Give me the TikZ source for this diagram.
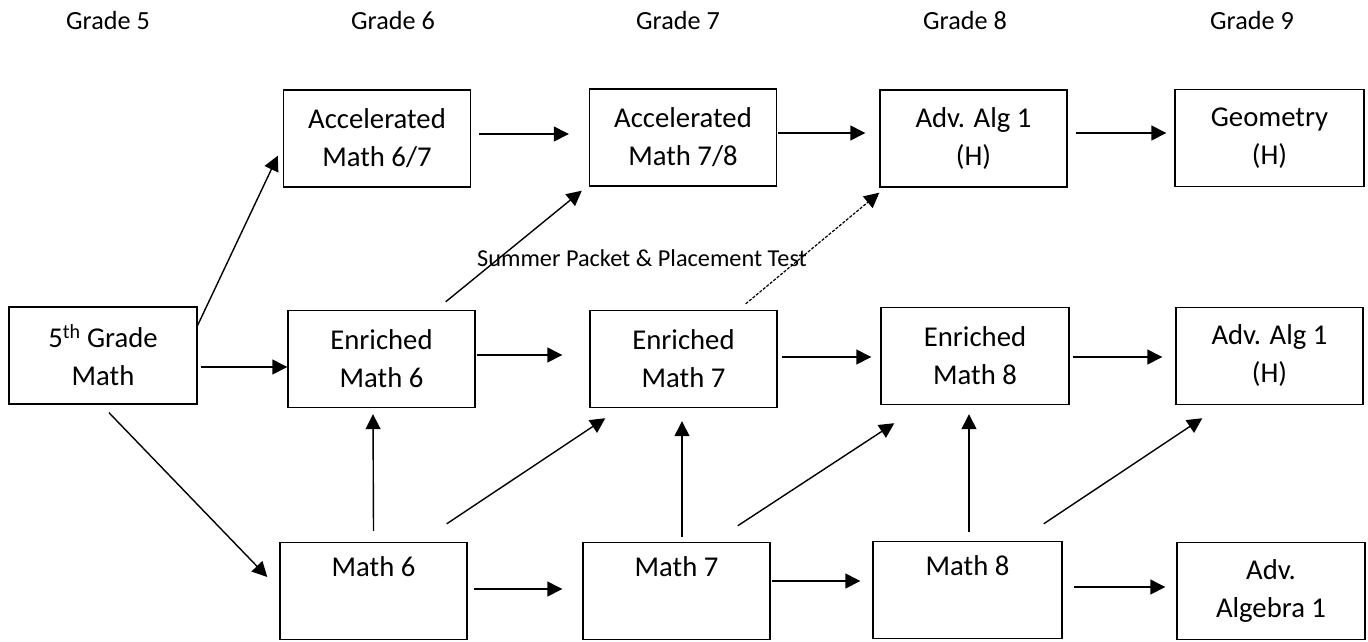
\documentclass[tikz,border=0pt]{standalone}
\usepackage{fontspec}
\setmainfont{Carlito}
\usetikzlibrary{arrows.meta,calc}
\begin{document}
\begin{tikzpicture}[x=1pt,y=-1pt,
  box/.style={draw, line width=1.4pt, inner sep=0pt, align=center,
    minimum width=187pt, minimum height=97pt, font=\fontsize{28.7}{38}\selectfont},
  grade/.style={inner sep=0pt, font=\fontsize{26.2}{30}\selectfont},
  arr/.style={line width=1.4pt, -{Triangle[length=15pt,width=15pt]}},
  darr/.style={line width=1.2pt, dash pattern=on 3pt off 1.5pt, -{Triangle[length=15pt,width=15pt]}}]
\useasboundingbox (0,0) rectangle (1368,641);
% grade labels
\node[grade] (g5) at (108,20) {Grade 5};
\node[grade] (g6) at (393,20) {Grade 6};
\node[grade] (g7) at (678,20) {Grade 7};
\node[grade] (g8) at (965,20) {Grade 8};
\node[grade] (g9) at (1252,20) {Grade 9};
% row 1
\node[box] (a67) at (377,138.5) {Accelerated\\Math 6/7};
\node[box] (a78) at (683,137.5) {Accelerated\\Math 7/8};
\node[box] (aa1) at (973.5,138.5) {Adv. Alg 1\\(H)};
\node[box, minimum width=189pt] (geo) at (1269.5,138) {Geometry\\(H)};
% row 2
\node[box, minimum width=188pt] (g5m) at (103,355.5) {5\textsuperscript{th} Grade\\Math};
\node[box] (em6) at (381.5,359) {Enriched\\Math 6};
\node[box] (em7) at (683.5,359) {Enriched\\Math 7};
\node[box, minimum width=188pt] (em8) at (975,356) {Enriched\\Math 8};
\node[box] (aa2) at (1269.5,356) {Adv. Alg 1\\(H)};
% row 3
\node[box] (m6) at (373.5,591) {Math 6\\\strut};
\node[box] (m7) at (676.5,591) {Math 7\\\strut};
\node[box, minimum width=189pt] (m8) at (967.5,590) {Math 8\\\strut};
\node[box, minimum width=188pt] (adv) at (1271,591) {Adv.\\Algebra 1};
% label
\node[inner sep=0pt, font=\fontsize{24.3}{28}\selectfont] (sp) at (642,258) {Summer Packet \& Placement Test};
% horizontal arrows
\draw[arr] ($(a67.east)+(8,-4.5)$) -- ($(a78.west)+(-20,-3.5)$);
\draw[arr] ($(a78.east)+(1,-4.5)$) -- ($(aa1.west)+(-14,-5.5)$);
\draw[arr] ($(aa1.east)+(8,-5.5)$) -- ($(geo.west)+(-8,-5)$);
\draw[arr] ($(g5m.east)+(3,11.5)$) -- ($(em6.west)+(0,8)$);
\draw[arr] ($(em6.east)+(1,-4)$) -- ($(em7.west)+(-27,-4)$);
\draw[arr] ($(em7.east)+(4,-2)$) -- ($(em8.west)+(-9,1)$);
\draw[arr] ($(em8.east)+(3,1)$) -- ($(aa2.west)+(-13,1)$);
\draw[arr] ($(m6.east)+(6,-2)$) -- ($(m7.west)+(-20,-2)$);
\draw[arr] ($(m7.east)+(1,-10)$) -- ($(m8.west)+(-12,-9)$);
\draw[arr] ($(m8.east)+(11,-3)$) -- ($(adv.west)+(-11,-4)$);
% vertical arrows
\draw[arr] ($(m6.north)+(0,-11)$) -- ($(em6.south)+(-8.5,6)$);
\draw[arr] ($(m7.north)+(5.5,-5)$) -- ($(em7.south)+(-1.5,13)$);
\draw[arr] ($(m8.north)+(1.5,-9)$) -- ($(em8.south)+(-6,9)$);
% diagonal arrows
\draw[arr] ($(g5m.north east)+(-1,21)$) -- ($(a67.south west)+(-5,-32)$);
\draw[arr] ($(g5m.south)+(6,8)$) -- ($(m6.west)+(-12,-14)$);
\draw[arr] ($(em6.north east)+(-30,-8)$) -- ($(a78.south west)+(-7,4)$);
\draw[darr] ($(em7.north east)+(-32,-6)$) -- ($(aa1.south west)+(0,5)$);
\draw[arr] ($(m6.north east)+(-21,-18)$) -- ($(em7.south west)+(16,10)$);
\draw[arr] ($(m7.north east)+(-33,-16)$) -- ($(em8.south west)+(14,18)$);
\draw[arr] ($(m8.north east)+(-19,-17)$) -- ($(aa2.south west)+(27,13)$);
\end{tikzpicture}
\end{document}
